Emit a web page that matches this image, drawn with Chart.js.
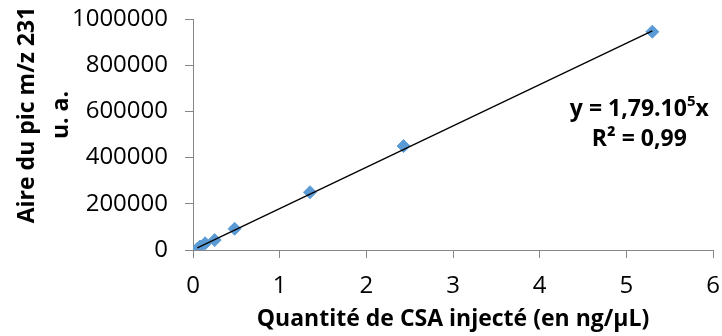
<!DOCTYPE html>
<html>
<head>
<meta charset="utf-8">
<script src="https://cdn.jsdelivr.net/npm/chart.js@4.4.1/dist/chart.umd.min.js"></script>
<style>
  html, body { margin: 0; padding: 0; background: #fff; }
  #wrap { width: 722px; height: 336px; }
</style>
</head>
<body>
<div id="wrap"><canvas id="chart" width="722" height="336"></canvas></div>
<script>
// étalonnage : quantité de CSA injectée vs aire du pic m/z 231
const quantites = [0.05, 0.08, 0.14, 0.25, 0.48, 1.35, 2.43, 5.3];
const aires = [5000, 15000, 29000, 43000, 92000, 250000, 450000, 945000];
const xTicks = [0, 1, 2, 3, 4, 5, 6];
const yTicks = [0, 200000, 400000, 600000, 800000, 1000000];
const pente = 1.79e5;   // droite de régression forcée par l'origine
const equation = ['y = 1,79.10', '5', 'x'];
const r2Label = 'R² = 0,99';
const xTitle = 'Quantité de CSA injecté (en ng/µL)';
const yTitle = ['Aire du pic m/z 231', 'u. a.'];

const FONT = '"Open Sans", "Liberation Sans", sans-serif';
const AXIS_GREY = '#868686';

const xMin = Math.min(...quantites);
const xMax = Math.max(...quantites);
const tendance = [{ x: xMin, y: pente * xMin }, { x: xMax, y: pente * xMax }];
const points = quantites.map((q, i) => ({ x: q, y: aires[i] }));

// titre vertical sur deux lignes
const yTitlePlugin = {
  id: 'yTitle',
  afterDraw(chart) {
    const ctx = chart.ctx;
    ctx.save();
    ctx.translate(27, 115);
    ctx.rotate(-Math.PI / 2);
    ctx.font = 'bold 23px ' + FONT;
    ctx.fillStyle = '#000';
    ctx.textAlign = 'center';
    ctx.textBaseline = 'middle';
    ctx.fillText(yTitle[0], 0, 0);
    ctx.fillText(yTitle[1], 0, 34);
    ctx.restore();
  }
};

// équation de la courbe de tendance + R²
const equationPlugin = {
  id: 'equation',
  afterDraw(chart) {
    const { ctx, scales } = chart;
    const cx = scales.x.getPixelForValue(5.15);
    const cy = scales.y.getPixelForValue(610000);
    ctx.save();
    ctx.fillStyle = '#000';
    ctx.textBaseline = 'middle';
    ctx.textAlign = 'left';
    const big = 'bold 23px ' + FONT;
    const small = 'bold 15px ' + FONT;
    ctx.font = big;
    const w0 = ctx.measureText(equation[0]).width;
    const w2 = ctx.measureText(equation[2]).width;
    ctx.font = small;
    const w1 = ctx.measureText(equation[1]).width;
    let x = cx - (w0 + w1 + w2) / 2;
    ctx.font = big;
    ctx.fillText(equation[0], x, cy);
    x += w0;
    ctx.font = small;
    ctx.fillText(equation[1], x, cy - 7);
    x += w1;
    ctx.font = big;
    ctx.fillText(equation[2], x, cy);
    ctx.textAlign = 'center';
    ctx.fillText(r2Label, cx, cy + 30);
    ctx.restore();
  }
};

new Chart(document.getElementById('chart'), {
  type: 'scatter',
  data: {
    datasets: [
      {
        label: 'tendance',
        data: tendance,
        showLine: true,
        borderColor: '#000',
        borderWidth: 1.3,
        pointRadius: 0,
        fill: false
      },
      {
        label: 'mesures',
        data: points,
        pointStyle: 'rectRot',
        pointRadius: 6.5,
        backgroundColor: '#5B9BD5',
        borderColor: '#5B9BD5',
        borderWidth: 1
      }
    ]
  },
  options: {
    responsive: false,
    animation: false,
    layout: { padding: { top: 19, right: 9, left: 0, bottom: 0 } },
    plugins: {
      legend: { display: false },
      tooltip: { enabled: false }
    },
    scales: {
      x: {
        type: 'linear',
        min: 0,
        max: 6,
        afterBuildTicks: s => { s.ticks = xTicks.map(v => ({ value: v })); },
        afterFit: s => {
          s.height = 86;
          s.paddingLeft = 0;
          s.paddingRight = 0;
        },
        grid: { drawOnChartArea: false, drawTicks: true, tickLength: 8, color: AXIS_GREY },
        border: { color: AXIS_GREY, width: 1 },
        ticks: { color: '#000', padding: 14, font: { family: FONT, size: 24 } },
        title: {
          display: true,
          text: xTitle,
          color: '#000',
          font: { family: FONT, size: 23, weight: 'bold' },
          padding: { top: 0, bottom: 3 }
        }
      },
      y: {
        type: 'linear',
        min: 0,
        max: 1000000,
        afterBuildTicks: s => { s.ticks = yTicks.map(v => ({ value: v })); },
        afterFit: s => {
          s.width = 193;
          s.paddingTop = 0;
          s.paddingBottom = 0;
        },
        grid: { drawOnChartArea: false, drawTicks: true, tickLength: 8, color: AXIS_GREY },
        border: { color: AXIS_GREY, width: 1 },
        ticks: {
          color: '#000',
          padding: 17,
          font: { family: FONT, size: 24 },
          callback: v => String(v)
        }
      }
    }
  },
  plugins: [yTitlePlugin, equationPlugin]
});
</script>
</body>
</html>
